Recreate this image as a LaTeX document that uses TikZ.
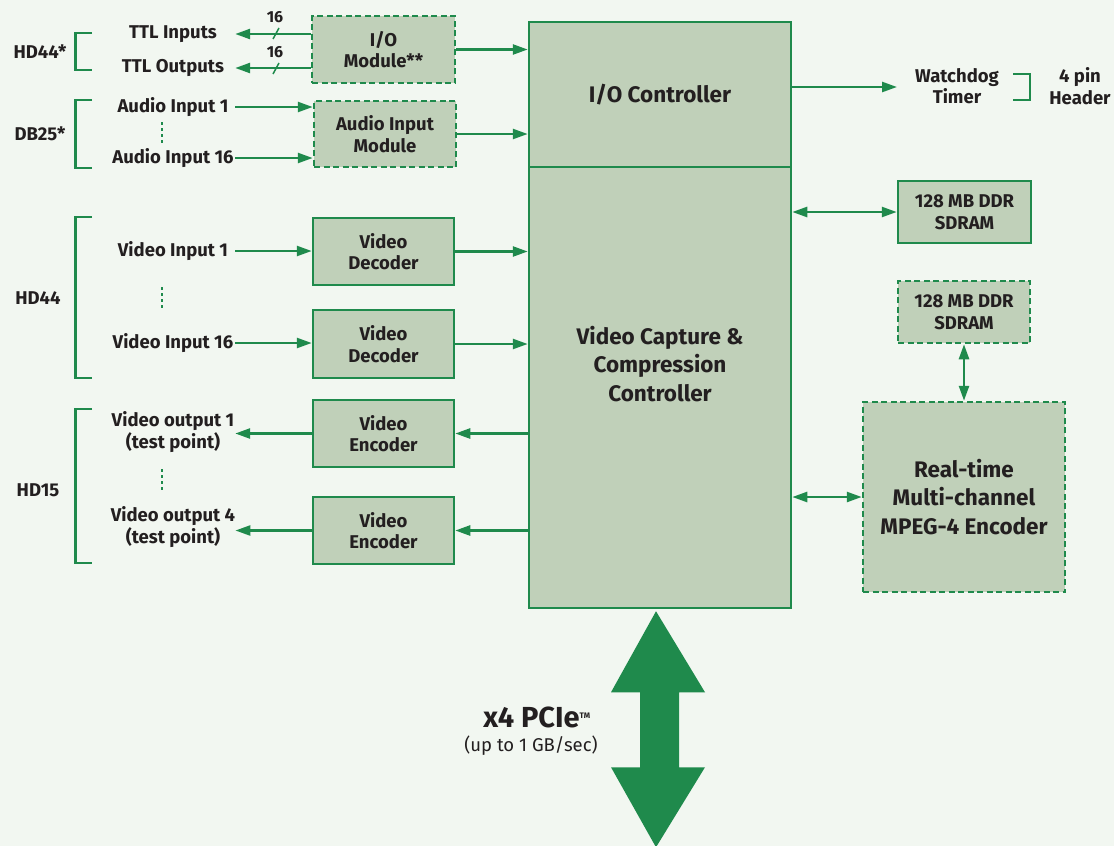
\documentclass[tikz,border=0pt]{standalone}
\usepackage{fontspec}
\setmainfont{Fira Sans}
\usetikzlibrary{arrows.meta}
\definecolor{bg}{HTML}{F2F7F1}
\definecolor{gc}{HTML}{1F8A4C}
\definecolor{bf}{HTML}{C0D0B9}
\definecolor{tx}{HTML}{231F20}
\begin{document}
\begin{tikzpicture}[x=1pt,y=-1pt,
  font=\bfseries\fontsize{18.5}{21.5}\selectfont, text=tx,
  box/.style={draw=gc, line width=2.5pt, fill=bf, align=center, inner sep=0pt},
  dbox/.style={box, dash pattern=on 6pt off 3.5pt},
  big/.style={font=\bfseries\fontsize{22.5}{28.5}\selectfont},
  arr/.style={draw=gc, line width=2.5pt, -{Triangle[length=15pt,width=10pt]}},
  darr/.style={draw=gc, line width=2.5pt, {Triangle[length=15pt,width=10pt]}-{Triangle[length=15pt,width=10pt]}},
  lbl/.style={minimum width=124pt, align=center, inner sep=0pt},
  conn/.style={inner sep=0pt},
  brk/.style={draw=gc, line width=2.5pt},
  dots/.style={draw=gc, line width=2.5pt, dash pattern=on 3pt off 3pt},
  small/.style={font=\bfseries\fontsize{16}{17}\selectfont, inner sep=0pt}]
\fill[bg] (0,0) rectangle (1114,846);
\useasboundingbox (0,0) rectangle (1114,846);

% main controller
\node[box, minimum width=262pt, minimum height=145pt, big] (ioc) at (660,94.5) {I/O Controller};
\node[box, minimum width=262pt, minimum height=441pt] (vcc) at (660,387.5) {};
\node[big, align=center, inner sep=0pt] (vcct) at (660,364) {Video Capture \&\\Compression\\Controller};

% modules
\node[dbox, minimum width=143pt, minimum height=67pt] (iom) at (383.5,49.5) {I/O\\Module**};
\node[dbox, minimum width=142pt, minimum height=66pt] (aim) at (385,134) {Audio Input\\Module};
\node[box, minimum width=141pt, minimum height=67pt] (vd1) at (383.5,251.5) {Video\\Decoder};
\node[box, minimum width=141pt, minimum height=68pt] (vd2) at (383.5,344) {Video\\Decoder};
\node[box, minimum width=141pt, minimum height=67pt] (ve1) at (383.5,433.5) {Video\\Encoder};
\node[box, minimum width=141pt, minimum height=67pt] (ve2) at (383.5,530.5) {Video\\Encoder};

% right side
\node[box, minimum width=133pt, minimum height=62pt] (sd1) at (964.5,212) {128 MB DDR\\SDRAM};
\node[dbox, minimum width=132pt, minimum height=62pt] (sd2) at (964,312) {128 MB DDR\\SDRAM};
\node[dbox, minimum width=202pt, minimum height=190pt, big] (mpeg) at (964,497) {Real-time\\Multi-channel\\MPEG-4 Encoder};

% left labels
\node[lbl] (ttlin) at (173,34) {TTL Inputs};
\node[lbl] (ttlout) at (173,68) {TTL Outputs};
\node[lbl] (ai1) at (173,107) {Audio Input 1};
\node[lbl] (ai16) at (173,158) {Audio Input 16};
\node[lbl] (vi1) at (173,251) {Video Input 1};
\node[lbl] (vi16) at (173,343) {Video Input 16};
\node[lbl] (vo1) at (173,432) {Video output 1\\(test point)};
\node[lbl] (vo4) at (173,527) {Video output 4\\(test point)};

% connector labels
\node[conn] (hd44s) at (40,52) {HD44*};
\node[conn] (db25) at (40,134) {DB25*};
\node[conn] (hd44) at (38,298) {HD44};
\node[conn] (hd15) at (38,490) {HD15};

% brackets
\draw[brk] (92,33) -- (75.5,33) -- (75.5,70) -- (92,70);
\draw[brk] (92,100) -- (75.5,100) -- (75.5,168) -- (92,168);
\draw[brk] (92,217) -- (75.5,217) -- (75.5,378) -- (92,378);
\draw[brk] (92,409) -- (75.5,409) -- (75.5,563) -- (92,563);

% dots
\draw[dots] (162,122) -- (162,145);
\draw[dots] (162,287) -- (162,310);
\draw[dots] (162,469) -- (162,492);

% watchdog
\node[align=center, inner sep=0pt] (wd) at (957,86) {Watchdog\\Timer};
\coordinate (wdin) at (897,87);
\draw[brk] (1013,74) -- (1030,74) -- (1030,100) -- (1013,100);
\node[align=center, inner sep=0pt] (hdr) at (1080,86) {4 pin\\Header};

% arrows
\draw[arr] (iom.east) -- (ioc.west |- iom.east);
\draw[arr] (aim.east) -- (ioc.west |- aim.east);
\draw[arr] (iom.west |- ttlin) -- (ttlin.east);
\draw[arr] (iom.west |- ttlout) -- (ttlout.east);
\draw[arr] (ai1.east) -- (aim.west |- ai1.east);
\draw[arr] (ai16.east) -- (aim.west |- ai16.east);
\draw[arr] (vi1.east) -- (vd1.west |- vi1.east);
\draw[arr] (vi16.east) -- (vd2.west |- vi16.east);
\draw[arr] (vd1.east) -- (vcc.west |- vd1.east);
\draw[arr] (vd2.east) -- (vcc.west |- vd2.east);
\draw[arr] (vcc.west |- ve1.east) -- (ve1.east);
\draw[arr] (vcc.west |- ve2.east) -- (ve2.east);
\draw[arr] (ve1.west) -- (vo1.east |- ve1.west);
\draw[arr] (ve2.west) -- (vo4.east |- ve2.west);
\draw[arr] ([yshift=7.5pt]ioc.east) -- (wdin);
\draw[darr] (vcc.east |- sd1.west) -- (sd1.west);
\draw[darr] (sd2.south) -- (mpeg.north);
\draw[darr] (vcc.east |- mpeg.west) -- (mpeg.west);

% bus width marks
\draw[gc, line width=1.5pt] (273,39) -- (279,28);
\draw[gc, line width=1.5pt] (273,74) -- (279,63);
\node[small] (n16a) at (275,17.5) {16};
\node[small] (n16b) at (275,52.5) {16};

% PCIe arrow
\fill[gc] ([yshift=-2pt]vcc.south) ++(-4,0) coordinate (ptip)
  -- ++(49,81) -- ++(-26,0) -- ++(0,75) -- ++(26,0) -- ++(-49,80)
  -- ++(-45,-80) -- ++(29,0) -- ++(0,-75) -- ++(-29,0) -- cycle;
\node[inner sep=0pt, font=\bfseries\fontsize{29}{31}\selectfont] (pcie) at (537,717) {x4 PCIe\textsuperscript{\fontsize{8}{9}\selectfont TM}};
\node[inner sep=0pt, font=\fontsize{18.5}{20}\selectfont] (pcie2) at (531,746) {(up to 1 GB/sec)};
\end{tikzpicture}
\end{document}
